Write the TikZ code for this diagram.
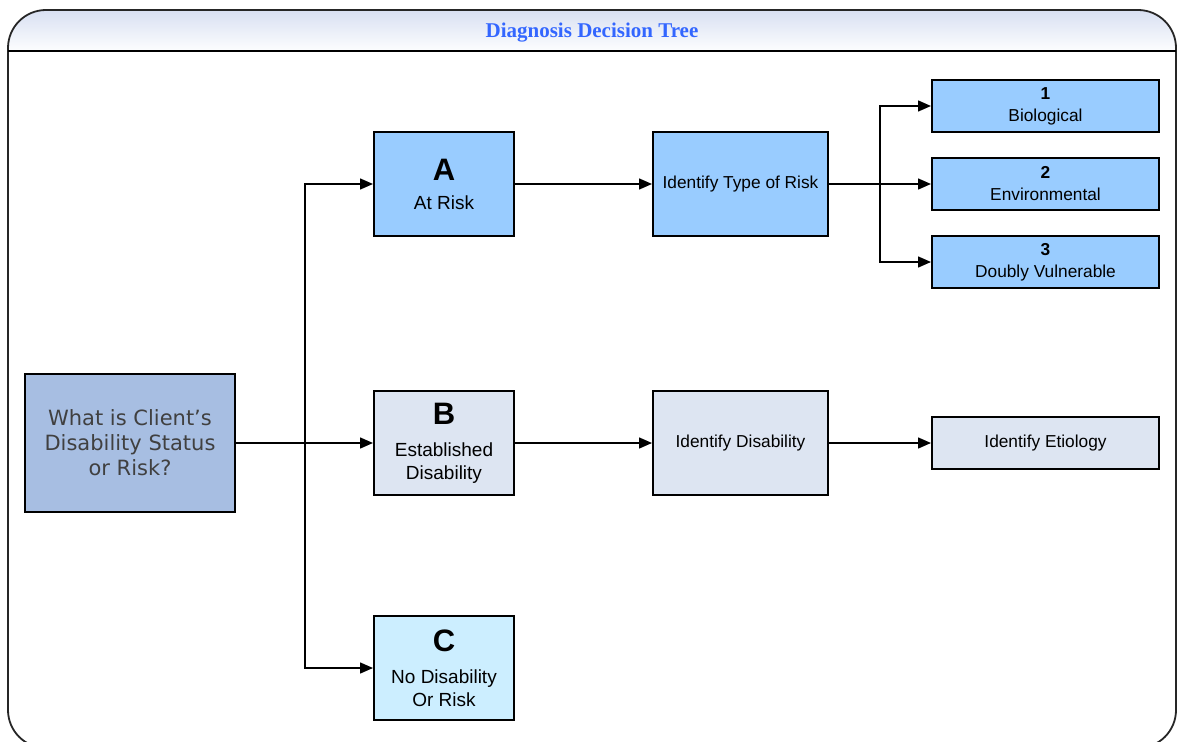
\documentclass[tikz,border=0pt]{standalone}
\usepackage{fontspec}
\setmainfont{Liberation Sans}
\newfontfamily\titlefont{Liberation Serif}
\newfontfamily\askfont{DejaVu Sans}
\usetikzlibrary{arrows.meta}
\definecolor{riskblue}{RGB}{153,204,255}
\definecolor{disgray}{RGB}{221,229,242}
\definecolor{nonecyan}{RGB}{204,238,255}
\definecolor{askblue}{RGB}{167,190,226}
\definecolor{titleblue}{RGB}{51,102,255}
\definecolor{barblue}{RGB}{216,224,242}
\tikzset{
    box/.style={draw=black, line width=2pt, align=center, inner sep=0pt,
        font=\fontsize{17.3}{20}\selectfont},
    mainbox/.style={box, minimum width=140pt, minimum height=104pt,
        font=\fontsize{19}{23}\selectfont},
    stepbox/.style={box, minimum width=175pt, minimum height=104pt},
    leafbox/.style={box, minimum width=227pt, minimum height=52pt},
    arr/.style={line width=1.5pt, -{Triangle[length=13pt,width=11pt]}},
}
\newcommand{\bigletter}[1]{{\fontsize{31}{31}\selectfont\bfseries #1}}
\begin{document}
\begin{tikzpicture}[x=1pt,y=-1pt]
    \useasboundingbox (0,0) rectangle (1177,741);
    \clip (0,0) rectangle (1177,741);
    % frame and title bar
    \begin{scope}
        \clip[rounded corners=38pt] (8,10) rectangle (1176,748);
        \shade[top color=barblue, bottom color=white!95!barblue] (8,10) rectangle (1176,51);
    \end{scope}
    \draw[line width=1.8pt, draw=black!85, rounded corners=38pt] (8,10) rectangle (1176,748);
    \draw[line width=1.5pt] (8,51) -- (1176,51);
    \node (title) at (592,33) {\titlefont\bfseries\fontsize{21}{24}\selectfont\color{titleblue}Diagnosis Decision Tree};
    % boxes
    \node[box, fill=askblue, minimum width=210pt, minimum height=138pt, text=black!75,
        font=\askfont\fontsize{21}{25}\selectfont] (ask) at (130,443) {What is Client’s\\Disability Status\\or Risk?};
    \node[mainbox, fill=riskblue] (a) at (444,184) {\bigletter{A}\\[6pt]At Risk};
    \node[mainbox, fill=disgray] (b) at (444,443) {\bigletter{B}\\[9pt]Established\\Disability};
    \node[mainbox, fill=nonecyan] (c) at (444,668) {\bigletter{C}\\[9pt]No Disability\\Or Risk};
    \node[stepbox, fill=riskblue] (type) at (740.5,184) {Identify Type of Risk};
    \node[stepbox, fill=disgray] (ident) at (740.5,443) {Identify Disability};
    \node[leafbox, fill=disgray] (etio) at (1045.5,443) {Identify Etiology};
    \node[leafbox, fill=riskblue] (bio) at (1045.5,106) {\textbf{1}\\[2pt]Biological};
    \node[leafbox, fill=riskblue] (env) at (1045.5,184) {\textbf{2}\\[2pt]Environmental};
    \node[leafbox, fill=riskblue] (dbl) at (1045.5,262) {\textbf{3}\\[2pt]Doubly Vulnerable};
    % connectors
    \coordinate (split) at (305,443);
    \coordinate (fork) at (880,184);
    \draw[arr] (ask) -- (b);
    \draw[arr] (split) |- (a);
    \draw[arr] (split) |- (c);
    \draw[arr] (a) -- (type);
    \draw[arr] (type) -- (env);
    \draw[arr] (fork) |- (bio);
    \draw[arr] (fork) |- (dbl);
    \draw[arr] (b) -- (ident);
    \draw[arr] (ident) -- (etio);
\end{tikzpicture}
\end{document}
